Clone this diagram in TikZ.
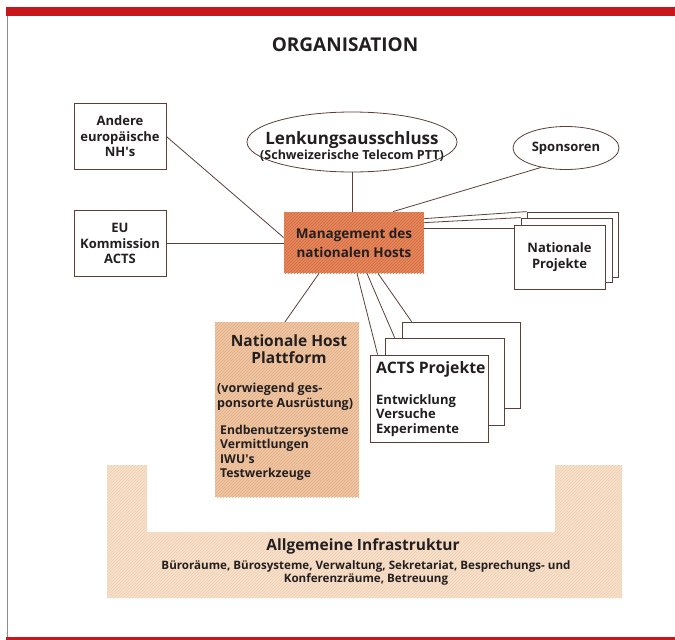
\documentclass[tikz,border=0pt]{standalone}
\usepackage{fontspec}
\setmainfont{Open Sans}
\usetikzlibrary{shapes.geometric,patterns,calc}

\definecolor{inkline}{HTML}{5A4038}
\definecolor{textdark}{HTML}{231F20}
\definecolor{mgmtfill}{HTML}{E8885C}
\definecolor{mgmthatch}{HTML}{CD6A42}
\definecolor{platfill}{HTML}{F1C8A4}
\definecolor{plathatch}{HTML}{E0AE88}
\definecolor{infrafill}{HTML}{F8E1CC}
\definecolor{infrahatch}{HTML}{EDCDB0}
\definecolor{barred}{HTML}{C8161D}
\definecolor{edgegray}{HTML}{8C8C8C}

\tikzset{
  conn/.style={draw=inkline, line width=0.8pt},
  framebox/.style={draw=inkline, line width=0.8pt, fill=white, inner sep=0pt,
    align=center, text=textdark},
  boxfont/.style={font=\fontsize{13}{15.5}\selectfont\bfseries},
  oval/.style={ellipse, draw=inkline, line width=0.8pt, fill=white, inner sep=0pt,
    align=center, text=textdark},
  label/.style={inner sep=0pt, text=textdark},
}

\begin{document}
\begin{tikzpicture}[x=1pt, y=-1pt]
\useasboundingbox (0,0) rectangle (675,640);

% frame: red top bar, thin grey left rule, red bottom line
\fill[barred] (6,7) rectangle (675,16);
\draw[edgegray, line width=1pt] (7,16) -- (7,637);
\fill[barred] (6,636.5) rectangle (675,640);

\node[label, font=\fontsize{19}{22}\selectfont\bfseries] (title) at (345,45) {ORGANISATION};

% general infrastructure (U-shaped base)
\path[fill=infrafill, postaction={pattern=north east lines, pattern color=infrahatch}]
  (107,465) -- (147,465) -- (147,532) -- (555,532) -- (555,465) -- (622,465)
  -- (622,598) -- (107,598) -- cycle;
\node[label, font=\fontsize{15.5}{18}\selectfont\bfseries] (infratitle) at (363,546) {Allgemeine Infrastruktur};
\node[label, align=center, font=\fontsize{11.6}{12.5}\selectfont\bfseries] (infratext) at (366,573)
  {Büroräume, Bürosysteme, Verwaltung, Sekretariat, Besprechungs- und\\Konferenzräume, Betreuung};

% boxes on the left
\node[framebox, boxfont, minimum width=92, minimum height=66] (andere) at (120,136.5)
  {Andere\\europäische\\NH\textquotesingle s};
\node[framebox, boxfont, minimum width=92, minimum height=66] (eu) at (120,243.5)
  {EU\\Kommission\\ACTS};

% ovals
\node[oval, minimum width=210, minimum height=60] (lenk) at (352,142) {};
\node[label, align=center] (lenktext) at (352,146.5)
  {{\fontsize{17}{18}\selectfont\bfseries Lenkungsausschluss}\\[0pt]
   {\fontsize{12.5}{13}\selectfont\bfseries (Schweizerische Telecom PTT)}};
\node[oval, minimum width=106, minimum height=43, font=\fontsize{13}{15}\selectfont\bfseries] (spon) at (566,148)
  {Sponsoren};

% management of the national host
\node[framebox, draw=none, fill=mgmtfill, postaction={pattern=north east lines, pattern color=mgmthatch},
  minimum width=140, minimum height=61, font=\fontsize{13.5}{19}\selectfont\bfseries] (mgmt) at (354,242.5)
  {Management des\\nationalen Hosts};

% national projects (stack of three sheets)
\node[framebox, minimum width=91, minimum height=65] (npback) at (572.5,244.5) {};
\node[framebox, minimum width=91, minimum height=64] (npmid) at (566.5,250) {};
\node[framebox, boxfont, minimum width=91, minimum height=64] (npfront) at (559.5,257)
  {Nationale\\Projekte};

% national host platform
\node[draw=none, fill=platfill, postaction={pattern=north east lines, pattern color=plathatch},
  minimum width=144, minimum height=175, inner sep=0pt] (plat) at (287,409.5) {};
\node[label, align=center, font=\fontsize{15.5}{17}\selectfont\bfseries] (plattitle) at (289,349)
  {Nationale Host\\Plattform};
\node[label, anchor=north west, align=left, font=\fontsize{12.5}{14.5}\selectfont\bfseries] (platnote)
  at (217,383) {(vorwiegend ges-\\ponsorte Ausrüstung)};
\node[label, anchor=north west, align=left, font=\fontsize{12.2}{14.5}\selectfont\bfseries] (platlist)
  at (220,425) {Endbenutzersysteme\\Vermittlungen\\IWU\textquotesingle s\\Testwerkzeuge};

% ACTS projects (stack of three sheets)
\node[framebox, minimum width=118, minimum height=86] (actsback) at (461,365) {};
\node[framebox, minimum width=119, minimum height=87] (actsmid) at (444.5,381.5) {};
\node[framebox, minimum width=118, minimum height=87] (actsfront) at (429,398.5) {};
\node[label, anchor=west, font=\fontsize{15.8}{18}\selectfont\bfseries] (actstitle) at (376,369) {ACTS Projekte};
\node[label, anchor=north west, align=left, font=\fontsize{13}{14.5}\selectfont\bfseries] (actslist)
  at (376,394) {Entwicklung\\Versuche\\Experimente};

% connectors
\draw[conn] (andere.east) -- ($(mgmt.west)+(0,-5)$);
\draw[conn] (eu.east) -- (eu.east -| mgmt.west);
\draw[conn] (lenk.south) -- (lenk.south |- mgmt.north);
\draw[conn] (spon.218) -- ($(mgmt.north)+(39,0)$);
\draw[conn] ($(mgmt.north east)+(0,7)$) -- (npback.north west);
\draw[conn] ($(mgmt.north east)+(0,11)$) -- (npmid.north west);
\draw[conn] ($(mgmt.north east)+(0,17)$) -- ($(npfront.north west)+(0,4)$);
\draw[conn] ($(mgmt.south)+(-35,0)$) -- ($(plat.north)+(-2,0)$);
\draw[conn] ($(mgmt.south)+(3,0)$) -- ($(actsfront.north west)+(8,0)$);
\draw[conn] ($(mgmt.south)+(13,0)$) -- ($(actsmid.north west)+(10,0)$);
\draw[conn] ($(mgmt.south)+(24,0)$) -- ($(actsback.north west)+(10,0)$);
\end{tikzpicture}
\end{document}
